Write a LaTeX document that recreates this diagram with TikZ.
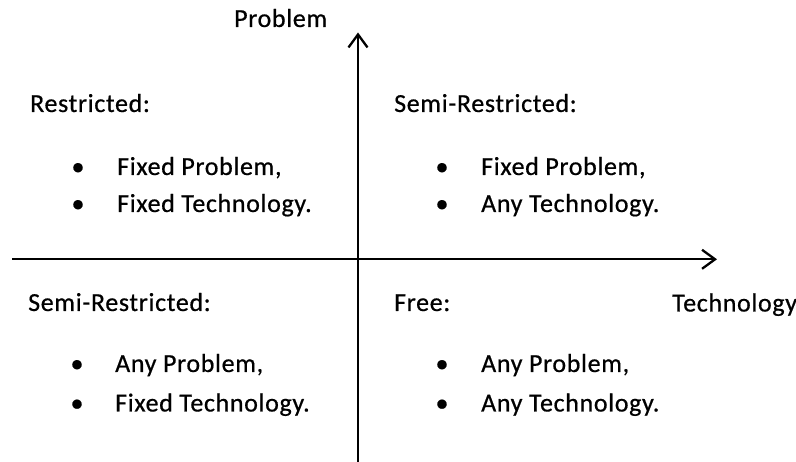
\documentclass[tikz,border=0pt]{standalone}
\usepackage{fontspec}
\setmainfont{Carlito}[LetterSpace=2.5,FakeBold=0.6]
\usetikzlibrary{arrows.meta}
\begin{document}
\begin{tikzpicture}[x=1pt,y=1pt,
  axis/.style={line width=2.3pt, -{Straight Barb[length=13pt,width=19pt,line width=2.3pt]}},
  lbl/.style={anchor=base west, inner sep=0pt, font=\fontsize{26}{30}\selectfont},
  dot/.style={anchor=base, inner sep=0pt, font=\fontsize{26}{30}\selectfont}]
\useasboundingbox (0,0) rectangle (796,462);

% axes
\coordinate (xs) at (12,202.7);
\coordinate (xe) at (717,202.7);
\coordinate (ys) at (358,0);
\coordinate (ye) at (358,429.5);
\draw[axis] (xs) -- (xe);
\draw[axis] (ys) -- (ye);

% axis titles
\node[lbl] (problem) at (234,435) {Problem};
\node[lbl] (technology) at (672,150.5) {Technology};

% upper left quadrant
\node[lbl] (rTitle) at (30,350) {Restricted:};
\node[dot] (rB1) at (78,287) {•};
\node[lbl] (rI1) at (117,287) {Fixed Problem,};
\node[dot] (rB2) at (78,250) {•};
\node[lbl] (rI2) at (117,250) {Fixed Technology.};

% upper right quadrant
\node[lbl] (srTitle) at (394,350) {Semi-Restricted:};
\node[dot] (srB1) at (442,287) {•};
\node[lbl] (srI1) at (481,287) {Fixed Problem,};
\node[dot] (srB2) at (442,250) {•};
\node[lbl] (srI2) at (481,250) {Any Technology.};

% lower left quadrant
\node[lbl] (slTitle) at (28,151) {Semi-Restricted:};
\node[dot] (slB1) at (77,90) {•};
\node[lbl] (slI1) at (115,90) {Any Problem,};
\node[dot] (slB2) at (77,50.5) {•};
\node[lbl] (slI2) at (115,50.5) {Fixed Technology.};

% lower right quadrant
\node[lbl] (fTitle) at (394,151) {Free:};
\node[dot] (fB1) at (442,90) {•};
\node[lbl] (fI1) at (481,90) {Any Problem,};
\node[dot] (fB2) at (442,50.5) {•};
\node[lbl] (fI2) at (481,50.5) {Any Technology.};
\end{tikzpicture}
\end{document}
